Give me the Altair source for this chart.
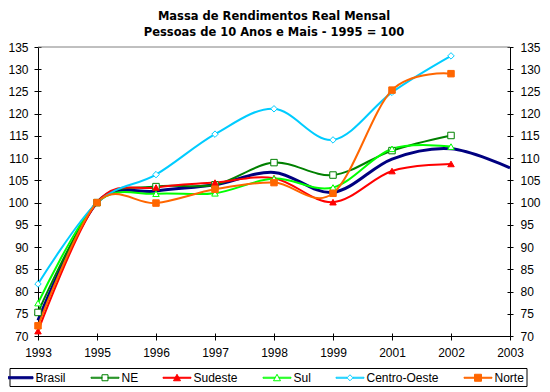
import altair as alt
import pandas as pd

# ---- data ----
years = ["1993", "1995", "1996", "1997", "1998", "1999", "2001", "2002", "2003"]
series = ["Brasil", "NE", "Sudeste", "Sul", "Centro-Oeste", "Norte"]
brasil = [73.5, 100.0, 102.6, 104.0, 106.8, 102.3, 109.8, 112.1, 107.8]
ne = [75.3, 100.0, 103.6, 104.0, 109.0, 106.2, 111.7, 115.1]
sudeste = [71.1, 100.0, 103.4, 104.5, 105.5, 100.1, 107.1, 108.7]
sul = [77.4, 100.0, 102.0, 102.1, 105.4, 103.4, 112.1, 112.6]
centro_oeste = [81.7, 100.0, 106.3, 115.4, 121.1, 114.1, 124.8, 133.0]
norte = [72.3, 100.0, 99.9, 103.0, 104.5, 102.1, 125.3, 129.0]
y_ticks = list(range(70, 136, 5))

title_lines = ["Massa de Rendimentos Real Mensal",
               "Pessoas de 10 Anos e Mais - 1995 = 100"]

# ---- styles ----
colors = ["#000080", "#008000", "#FF0000", "#00FF00", "#00CCFF", "#FF6600"]
marker_series = series[1:]
marker_shapes = ["square", "triangle-up", "triangle-up", "diamond", "square"]
marker_fills = ["#FFFFFF", "#FF0000", "#FFFFFF", "#FFFFFF", "#FF6600"]

# legend symbols: line segment + marker (path units: 1 = 7 px)
lead = "M-3,0"
seg_full = "M-2,-0.07H2V0.07H-2Z"
legend_paths = {
    "Brasil": lead + "M-2,-0.143H2V0.143H-2Z",
    "NE": lead + "M-2,-0.07H-0.43V0.07H-2ZM0.43,-0.07H2V0.07H0.43ZM-0.43,-0.43H0.43V0.43H-0.43Z",
    "Sudeste": lead + seg_full + "M0,-0.5L0.5,0.43L-0.5,0.43Z",
    "Sul": lead + "M-2,-0.07H-0.3V0.07H-2ZM0.3,-0.07H2V0.07H0.3ZM0,-0.5L0.5,0.43L-0.5,0.43Z",
    "Centro-Oeste": lead + "M-2,-0.07H-0.43V0.07H-2ZM0.43,-0.07H2V0.07H0.43ZM0,-0.43L0.43,0L0,0.43L-0.43,0Z",
    "Norte": lead + seg_full + "M-0.5,-0.5H0.5V0.5H-0.5Z",
}
legend_fills = dict(zip(series, ["#000080", "#FFFFFF", "#FF0000", "#FFFFFF", "#FFFFFF", "#FF6600"]))


def ternary(mapping, default):
    expr = "'" + default + "'"
    for k, v in reversed(list(mapping.items())):
        expr = "datum.value === '" + k + "' ? '" + v + "' : (" + expr + ")"
    return expr


rows = []
for name, vals in zip(series, [brasil, ne, sudeste, sul, centro_oeste, norte]):
    for yr, v in zip(years, vals):
        rows.append({"ano": yr, "serie": name, "valor": v})
df = pd.DataFrame(rows)

FONT = "Liberation Sans"
xs = alt.Scale(type="point", domain=years, padding=0)
ys = alt.Scale(domain=[70, 135], nice=False, zero=False)

x_axis = alt.Axis(orient="bottom", title=None, ticks=False, tickSize=0, values=years,
                  labelAngle=0, labelPadding=11, grid=False, labelOverlap=False)
y_axis = alt.Axis(orient="left", title=None, ticks=False, tickSize=0, values=y_ticks,
                  labelPadding=10, grid=False, labelOverlap=False)

legend = alt.Legend(
    title=None,
    orient="none", legendX=-28.5, legendY=321, direction="horizontal",
    strokeColor="black", fillColor="white", padding=2,
    symbolSize=196, symbolStrokeWidth=1,
    symbolType=alt.ExprRef(expr=ternary(legend_paths, "stroke")),
    symbolFillColor=alt.ExprRef(expr=ternary(legend_fills, "transparent")),
    labelOffset=9, columnPadding=15,
    labelFont=FONT, labelFontSize=12, labelColor="black",
)

lines = alt.Chart(df).mark_line(interpolate="cardinal").encode(
    x=alt.X("ano:O", scale=xs, axis=x_axis),
    y=alt.Y("valor:Q", scale=ys, axis=y_axis),
    stroke=alt.Stroke("serie:N", scale=alt.Scale(domain=series, range=colors), legend=legend),
    strokeWidth=alt.condition("datum.serie === 'Brasil'", alt.value(3), alt.value(2)),
)

points = alt.Chart(df).transform_filter("datum.serie !== 'Brasil'").mark_point(
    size=42, strokeWidth=1, opacity=1
).encode(
    x=alt.X("ano:O", scale=xs, axis=x_axis),
    y=alt.Y("valor:Q", scale=ys, axis=y_axis),
    stroke=alt.Stroke("serie:N", legend=None),
    fill=alt.Fill("serie:N", scale=alt.Scale(domain=marker_series, range=marker_fills), legend=None),
    shape=alt.Shape("serie:N", scale=alt.Scale(domain=marker_series, range=marker_shapes), legend=None),
)

data_layer = alt.layer(lines, points)

tick_layer = alt.Chart(df).mark_point(opacity=0).encode(
    x=alt.X("ano:O", scale=xs, axis=alt.Axis(orient="bottom", domain=False, labels=False, ticks=True,
                                                tickSize=7, offset=-3, title=None, grid=False)),
    y=alt.Y("valor:Q", scale=ys, axis=alt.Axis(orient="left", domain=False, labels=False, ticks=True,
                                                  tickSize=7, offset=-3, values=y_ticks, title=None,
                                                  grid=False)),
)

top_rule = alt.Chart(pd.DataFrame({"topo": [y_ticks[-1]]})).mark_rule(color="#808080", strokeWidth=1).encode(
    y=alt.Y("topo:Q", scale=ys, axis=alt.Axis(orient="right", title=None, ticks=False, tickSize=0,
                                                 values=y_ticks, labelPadding=10, grid=False,
                                                 labelOverlap=False)),
)

right_ticks = alt.Chart(df).mark_point(opacity=0).encode(
    y=alt.Y("valor:Q", scale=ys, axis=alt.Axis(orient="right", domain=False, labels=False, ticks=True,
                                                  tickSize=6, offset=-3, values=y_ticks, title=None,
                                                  grid=False)),
)

chart = alt.layer(data_layer, tick_layer, top_rule, right_ticks).resolve_scale(
    x="independent", y="independent"
).properties(
    width=472, height=289,
    padding={"left": 30, "top": 39, "right": 32, "bottom": 52},
    autosize=alt.AutoSizeParams(type="none"),
    title=alt.Title(title_lines, font="DejaVu Sans", fontSize=11.5, fontWeight="bold", color="black",
                    anchor="middle", offset=3, lineHeight=16),
).configure_view(stroke=None).configure_axis(
    labelFont=FONT, labelFontSize=12, labelColor="black", domainColor="black", tickColor="black",
    domainWidth=1, tickWidth=1,
)

chart.save("out.html", embed_options={"renderer": "svg", "actions": False})
